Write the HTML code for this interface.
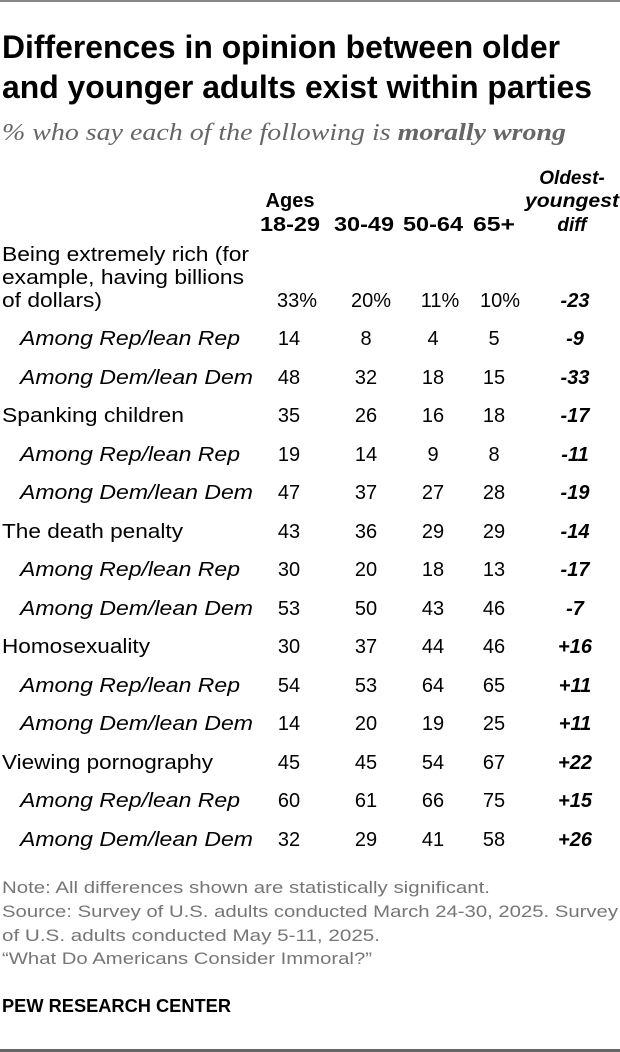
<!DOCTYPE html>
<html><head><meta charset="utf-8"><style>
html,body{margin:0;padding:0;background:#fff;}
svg{display:block;}
text{font-family:"Liberation Sans",sans-serif;}
.t{font-weight:bold;font-size:32px;fill:#000;}
.sub{font-family:"Liberation Serif",serif;font-style:italic;font-size:24px;fill:#666;}
.h{font-weight:bold;font-size:20px;fill:#000;}
.hi{font-weight:bold;font-style:italic;font-size:19px;fill:#000;}
.l{font-size:20px;fill:#000;}
.li{font-size:20px;font-style:italic;fill:#000;}
.n{font-size:20px;fill:#000;text-anchor:middle;}
.d{font-size:20px;font-weight:bold;font-style:italic;fill:#000;text-anchor:middle;}
.f{font-size:17px;fill:#767676;}
.p{font-size:18px;font-weight:bold;fill:#000;}
</style></head><body>
<svg width="620" height="1052" viewBox="0 0 620 1052">
<rect x="0" y="0" width="620" height="2" fill="#888"/>
<rect x="0" y="1049" width="620" height="3" fill="#666"/>
<text class="t" x="2" y="58" textLength="558" lengthAdjust="spacingAndGlyphs">Differences in opinion between older</text>
<text class="t" x="2" y="98" textLength="590" lengthAdjust="spacingAndGlyphs">and younger adults exist within parties</text>
<text class="sub" x="2" y="140" textLength="564" lengthAdjust="spacingAndGlyphs">% who say each of the following is <tspan font-weight="bold">morally wrong</tspan></text>
<text class="h" x="290" y="207" text-anchor="middle">Ages</text>
<text class="h" x="290" y="231" text-anchor="middle" textLength="60" lengthAdjust="spacingAndGlyphs">18-29</text>
<text class="h" x="364" y="231" text-anchor="middle" textLength="60" lengthAdjust="spacingAndGlyphs">30-49</text>
<text class="h" x="433" y="231" text-anchor="middle" textLength="60" lengthAdjust="spacingAndGlyphs">50-64</text>
<text class="h" x="494" y="231" text-anchor="middle" textLength="42" lengthAdjust="spacingAndGlyphs">65+</text>
<text class="hi" x="572" y="184" text-anchor="middle">Oldest-</text>
<text class="hi" x="572" y="207" text-anchor="middle" textLength="94" lengthAdjust="spacingAndGlyphs">youngest</text>
<text class="hi" x="572" y="231" text-anchor="middle">diff</text>

<text class="l" x="2" y="261" textLength="247" lengthAdjust="spacingAndGlyphs">Being extremely rich (for</text>
<text class="l" x="2" y="284" textLength="242" lengthAdjust="spacingAndGlyphs">example, having billions</text>
<text class="l" x="2" y="307" textLength="100" lengthAdjust="spacingAndGlyphs">of dollars)</text>
<text class="n" x="297" y="307">33%</text><text class="n" x="371" y="307">20%</text><text class="n" x="440" y="307">11%</text><text class="n" x="500" y="307">10%</text><text class="d" x="575" y="307">-23</text>

<text class="li" x="20" y="345" textLength="220" lengthAdjust="spacingAndGlyphs">Among Rep/lean Rep</text>
<text class="n" x="289" y="345">14</text><text class="n" x="366" y="345">8</text><text class="n" x="433" y="345">4</text><text class="n" x="494" y="345">5</text><text class="d" x="575" y="345">-9</text>
<text class="li" x="20" y="384" textLength="233" lengthAdjust="spacingAndGlyphs">Among Dem/lean Dem</text>
<text class="n" x="289" y="384">48</text><text class="n" x="366" y="384">32</text><text class="n" x="433" y="384">18</text><text class="n" x="494" y="384">15</text><text class="d" x="575" y="384">-33</text>
<text class="l" x="2" y="422" textLength="182" lengthAdjust="spacingAndGlyphs">Spanking children</text>
<text class="n" x="289" y="422">35</text><text class="n" x="366" y="422">26</text><text class="n" x="433" y="422">16</text><text class="n" x="494" y="422">18</text><text class="d" x="575" y="422">-17</text>
<text class="li" x="20" y="461" textLength="220" lengthAdjust="spacingAndGlyphs">Among Rep/lean Rep</text>
<text class="n" x="289" y="461">19</text><text class="n" x="366" y="461">14</text><text class="n" x="433" y="461">9</text><text class="n" x="494" y="461">8</text><text class="d" x="575" y="461">-11</text>
<text class="li" x="20" y="499" textLength="233" lengthAdjust="spacingAndGlyphs">Among Dem/lean Dem</text>
<text class="n" x="289" y="499">47</text><text class="n" x="366" y="499">37</text><text class="n" x="433" y="499">27</text><text class="n" x="494" y="499">28</text><text class="d" x="575" y="499">-19</text>
<text class="l" x="2" y="538" textLength="181" lengthAdjust="spacingAndGlyphs">The death penalty</text>
<text class="n" x="289" y="538">43</text><text class="n" x="366" y="538">36</text><text class="n" x="433" y="538">29</text><text class="n" x="494" y="538">29</text><text class="d" x="575" y="538">-14</text>
<text class="li" x="20" y="576" textLength="220" lengthAdjust="spacingAndGlyphs">Among Rep/lean Rep</text>
<text class="n" x="289" y="576">30</text><text class="n" x="366" y="576">20</text><text class="n" x="433" y="576">18</text><text class="n" x="494" y="576">13</text><text class="d" x="575" y="576">-17</text>
<text class="li" x="20" y="615" textLength="233" lengthAdjust="spacingAndGlyphs">Among Dem/lean Dem</text>
<text class="n" x="289" y="615">53</text><text class="n" x="366" y="615">50</text><text class="n" x="433" y="615">43</text><text class="n" x="494" y="615">46</text><text class="d" x="575" y="615">-7</text>
<text class="l" x="2" y="653" textLength="148" lengthAdjust="spacingAndGlyphs">Homosexuality</text>
<text class="n" x="289" y="653">30</text><text class="n" x="366" y="653">37</text><text class="n" x="433" y="653">44</text><text class="n" x="494" y="653">46</text><text class="d" x="575" y="653">+16</text>
<text class="li" x="20" y="692" textLength="220" lengthAdjust="spacingAndGlyphs">Among Rep/lean Rep</text>
<text class="n" x="289" y="692">54</text><text class="n" x="366" y="692">53</text><text class="n" x="433" y="692">64</text><text class="n" x="494" y="692">65</text><text class="d" x="575" y="692">+11</text>
<text class="li" x="20" y="730" textLength="233" lengthAdjust="spacingAndGlyphs">Among Dem/lean Dem</text>
<text class="n" x="289" y="730">14</text><text class="n" x="366" y="730">20</text><text class="n" x="433" y="730">19</text><text class="n" x="494" y="730">25</text><text class="d" x="575" y="730">+11</text>
<text class="l" x="2" y="769" textLength="211" lengthAdjust="spacingAndGlyphs">Viewing pornography</text>
<text class="n" x="289" y="769">45</text><text class="n" x="366" y="769">45</text><text class="n" x="433" y="769">54</text><text class="n" x="494" y="769">67</text><text class="d" x="575" y="769">+22</text>
<text class="li" x="20" y="807" textLength="220" lengthAdjust="spacingAndGlyphs">Among Rep/lean Rep</text>
<text class="n" x="289" y="807">60</text><text class="n" x="366" y="807">61</text><text class="n" x="433" y="807">66</text><text class="n" x="494" y="807">75</text><text class="d" x="575" y="807">+15</text>
<text class="li" x="20" y="846" textLength="233" lengthAdjust="spacingAndGlyphs">Among Dem/lean Dem</text>
<text class="n" x="289" y="846">32</text><text class="n" x="366" y="846">29</text><text class="n" x="433" y="846">41</text><text class="n" x="494" y="846">58</text><text class="d" x="575" y="846">+26</text>

<text class="f" x="2" y="893" textLength="488" lengthAdjust="spacingAndGlyphs">Note: All differences shown are statistically significant.</text>
<text class="f" x="2" y="917" textLength="616" lengthAdjust="spacingAndGlyphs">Source: Survey of U.S. adults conducted March 24-30, 2025. Survey</text>
<text class="f" x="2" y="941" textLength="378" lengthAdjust="spacingAndGlyphs">of U.S. adults conducted May 5-11, 2025.</text>
<text class="f" x="2" y="964" textLength="370" lengthAdjust="spacingAndGlyphs">“What Do Americans Consider Immoral?”</text>
<text class="p" x="2" y="1012" textLength="229" lengthAdjust="spacingAndGlyphs">PEW RESEARCH CENTER</text>
</svg>
</body></html>
